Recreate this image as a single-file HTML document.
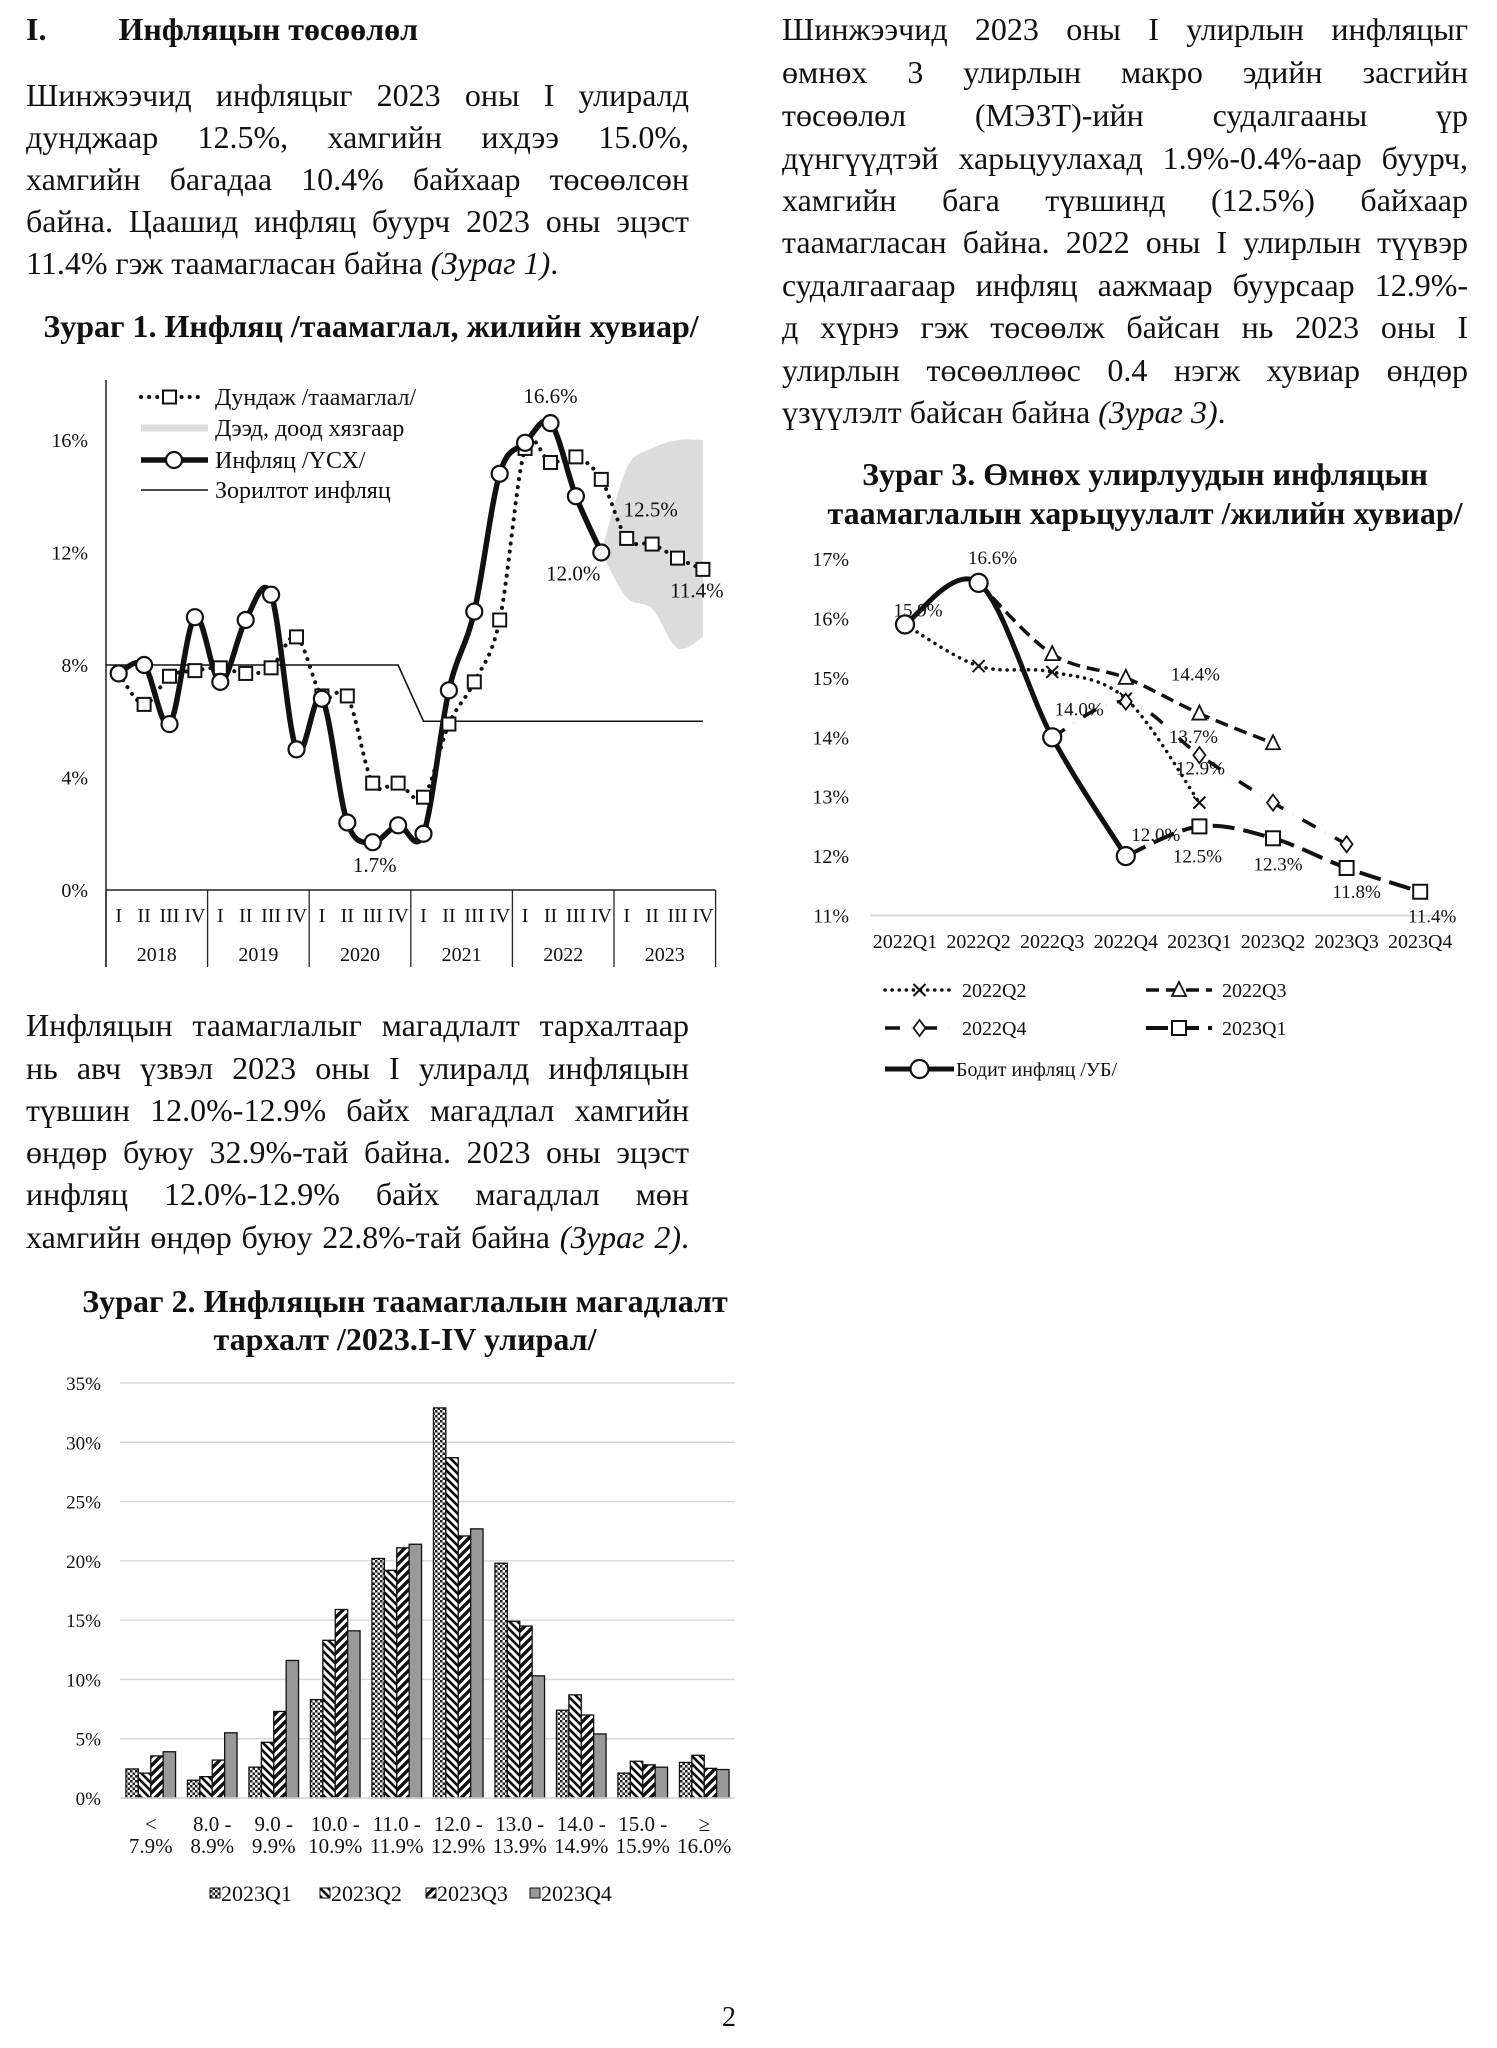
<!DOCTYPE html>
<html><head><meta charset="utf-8">
<style>
body{margin:0;background:#fff;}
#page{position:relative;width:1497px;height:2048px;overflow:hidden;background:#fff;font-family:"Liberation Serif","Noto Serif CJK SC",serif;color:#111;}
.ln{position:absolute;font-size:32px;line-height:42px;height:42px;white-space:nowrap;text-align:justify;text-align-last:justify;}
.ln.last{text-align-last:left;}
.ttl{position:absolute;font-weight:bold;font-size:32px;line-height:38px;white-space:nowrap;text-align:center;}
svg text{font-family:"Liberation Serif",serif;fill:#111;}
</style></head>
<body>
<div id="page">
<div class="ttl" style="left:26px;top:10px;text-align:left;">I.<span style="display:inline-block;width:72px"></span>Инфляцын төсөөлөл</div>

<div>
<div class="ln" style="left:26px;width:663px;top:74px">Шинжээчид инфляцыг 2023 оны I улиралд</div>
<div class="ln" style="left:26px;width:663px;top:116px">дунджаар 12.5%, хамгийн ихдээ 15.0%,</div>
<div class="ln" style="left:26px;width:663px;top:158px">хамгийн багадаа 10.4% байхаар төсөөлсөн</div>
<div class="ln" style="left:26px;width:663px;top:200px">байна. Цаашид инфляц буурч 2023 оны эцэст</div>
<div class="ln last" style="left:26px;width:663px;top:242px">11.4% гэж таамагласан байна <i>(Зураг 1)</i>.</div>
</div>

<div class="ttl" style="left:26px;width:690px;top:307px;">Зураг 1. Инфляц /таамаглал, жилийн хувиар/</div>

<div>
<div class="ln" style="left:782px;width:686px;top:8px">Шинжээчид 2023 оны I улирлын инфляцыг</div>
<div class="ln" style="left:782px;width:686px;top:51px">өмнөх 3 улирлын макро эдийн засгийн</div>
<div class="ln" style="left:782px;width:686px;top:94px">төсөөлөл (МЭЗТ)-ийн судалгааны үр</div>
<div class="ln" style="left:782px;width:686px;top:137px">дүнгүүдтэй харьцуулахад 1.9%-0.4%-аар буурч,</div>
<div class="ln" style="left:782px;width:686px;top:179px">хамгийн бага түвшинд (12.5%) байхаар</div>
<div class="ln" style="left:782px;width:686px;top:221px">таамагласан байна. 2022 оны I улирлын түүвэр</div>
<div class="ln" style="left:782px;width:686px;top:264px">судалгаагаар инфляц аажмаар буурсаар 12.9%-</div>
<div class="ln" style="left:782px;width:686px;top:306px">д хүрнэ гэж төсөөлж байсан нь 2023 оны I</div>
<div class="ln" style="left:782px;width:686px;top:349px">улирлын төсөөллөөс 0.4 нэгж хувиар өндөр</div>
<div class="ln last" style="left:782px;width:686px;top:391px">үзүүлэлт байсан байна <i>(Зураг 3)</i>.</div>
</div>

<div class="ttl" style="left:800px;width:690px;top:455px;">Зураг 3. Өмнөх улирлуудын инфляцын</div>
<div class="ttl" style="left:800px;width:690px;top:494px;">таамаглалын харьцуулалт /жилийн хувиар/</div>

<div>
<div class="ln" style="left:26px;width:663px;top:1004px">Инфляцын таамаглалыг магадлалт тархалтаар</div>
<div class="ln" style="left:26px;width:663px;top:1047px">нь авч үзвэл 2023 оны I улиралд инфляцын</div>
<div class="ln" style="left:26px;width:663px;top:1089px">түвшин 12.0%-12.9% байх магадлал хамгийн</div>
<div class="ln" style="left:26px;width:663px;top:1131px">өндөр буюу 32.9%-тай байна. 2023 оны эцэст</div>
<div class="ln" style="left:26px;width:663px;top:1173px">инфляц 12.0%-12.9% байх магадлал мөн</div>
<div class="ln" style="left:26px;width:663px;top:1216px">хамгийн өндөр буюу 22.8%-тай байна <i>(Зураг 2)</i>.</div>
</div>

<div class="ttl" style="left:60px;width:690px;top:1282px;">Зураг 2. Инфляцын таамаглалын магадлалт</div>
<div class="ttl" style="left:60px;width:690px;top:1320px;">тархалт /2023.I-IV улирал/</div>

<div style="position:absolute;left:722px;top:2002px;font-size:28px;">2</div>

<svg id="svg" width="1497" height="2048" style="position:absolute;left:0;top:0" xmlns="http://www.w3.org/2000/svg">
<defs>
<pattern id="pQ1" width="5" height="5" patternUnits="userSpaceOnUse"><rect width="5" height="5" fill="#fff"/><rect width="2.5" height="2.5" fill="#222"/><rect x="2.5" y="2.5" width="2.5" height="2.5" fill="#222"/></pattern>
<pattern id="pQ2" width="8" height="8" patternUnits="userSpaceOnUse"><rect width="8" height="8" fill="#fff"/><path d="M-2,-2 L10,10 M-2,6 L2,10 M6,-2 L10,2" stroke="#111" stroke-width="2.6"/></pattern>
<pattern id="pQ3" width="9" height="9" patternUnits="userSpaceOnUse"><rect width="9" height="9" fill="#fff"/><path d="M-2,11 L11,-2 M-2,2 L2,-2 M7,11 L11,7" stroke="#111" stroke-width="3.4"/></pattern>
</defs>
<g id="c1"></g>
<g id="c2"></g>
<g id="c3"></g>
</svg>
</div>
<script>
// ---------- Chart 1 data ----------
const c1Years = ["2018","2019","2020","2021","2022","2023"];
const c1Quarters = ["I","II","III","IV"];
const c1Ticks = [0,4,8,12,16];
const c1Actual = [7.7,8.0,5.9,9.7,7.4,9.6,10.5,5.0,6.8,2.4,1.7,2.3,2.0,7.1,9.9,14.8,15.9,16.6,14.0,12.0];
const c1Forecast = [7.7,6.6,7.6,7.8,7.9,7.7,7.9,9.0,6.9,6.9,3.8,3.8,3.3,5.9,7.4,9.6,15.7,15.2,15.4,14.6,12.5,12.3,11.8,11.4];
const c1Target = [8,8,8,8,8,8,8,8,8,8,8,8,6,6,6,6,6,6,6,6,6,6,6,6];
const c1BandUpper = [12.0,15.0,15.7,16.0,16.0];
const c1BandLower = [12.0,10.4,10.0,8.6,9.0];
const c1BandStart = 19;

// ---------- Chart 2 data ----------
const c2Cats = [["<","7.9%"],["8.0 -","8.9%"],["9.0 -","9.9%"],["10.0 -","10.9%"],["11.0 -","11.9%"],["12.0 -","12.9%"],["13.0 -","13.9%"],["14.0 -","14.9%"],["15.0 -","15.9%"],["≥","16.0%"]];
const c2Series = ["2023Q1","2023Q2","2023Q3","2023Q4"];
const c2Q1 = [2.45,1.5,2.6,8.3,20.2,32.9,19.8,7.4,2.1,3.0];
const c2Q2 = [2.1,1.8,4.7,13.3,19.2,28.7,14.9,8.7,3.1,3.6];
const c2Q3 = [3.55,3.2,7.3,15.9,21.1,22.1,14.5,7.0,2.8,2.5];
const c2Q4 = [3.9,5.5,11.6,14.1,21.4,22.7,10.3,5.4,2.6,2.4];
const c2Ticks = [0,5,10,15,20,25,30,35];

// ---------- Chart 3 data ----------
const c3Cats = ["2022Q1","2022Q2","2022Q3","2022Q4","2023Q1","2023Q2","2023Q3","2023Q4"];
const c3Ticks = [11,12,13,14,15,16,17];
const c3Actual = [15.9,16.6,14.0,12.0];
const c3F22Q2 = [15.9,15.2,15.1,14.65,12.9];
const c3F22Q3 = [16.6,15.4,15.0,14.4,13.9];
const c3F22Q4 = [14.0,14.6,13.7,12.9,12.2];
const c3F23Q1 = [12.0,12.5,12.3,11.8,11.4];

const NS="http://www.w3.org/2000/svg";
function mk(parent,tag,attrs,txt){const e=document.createElementNS(NS,tag);for(const k in attrs)e.setAttribute(k,attrs[k]);if(txt!==undefined)e.textContent=txt;parent.appendChild(e);return e;}
function smooth(p){let d=`M${p[0][0]},${p[0][1]}`;for(let i=0;i<p.length-1;i++){const p0=p[i-1]||p[i],p1=p[i],p2=p[i+1],p3=p[i+2]||p2;const c1x=p1[0]+(p2[0]-p0[0])/6,c1y=p1[1]+(p2[1]-p0[1])/6,c2x=p2[0]-(p3[0]-p1[0])/6,c2y=p2[1]-(p3[1]-p1[1])/6;d+=` C${c1x},${c1y} ${c2x},${c2y} ${p2[0]},${p2[1]}`;}return d;}

// fit text lines
document.querySelectorAll('.ln, .ttl').forEach(el=>{
  const w=el.getBoundingClientRect().width;
  const m=document.createElement('span');
  m.style.cssText='position:absolute;visibility:hidden;white-space:nowrap;left:0;top:0;';
  m.innerHTML=el.innerHTML;
  el.appendChild(m);
  const nw=m.getBoundingClientRect().width;
  const chars=el.textContent.length;
  el.removeChild(m);
  if(el.classList.contains('ln') && nw>w-4){el.style.letterSpacing=(-(nw-w+6)/chars)+'px';}
});

// ===== Chart 1 =====
(function(){
const g=document.getElementById('c1');
const L=106,R=715.6,Y0=890,Y16=440;
const n=24,step=(R-L)/n;
const x=i=>L+step*(i+0.5);
const y=v=>Y0-(Y0-Y16)*v/16;
const up=c1BandUpper.map((v,k)=>[x(c1BandStart+k),y(v)]);
const lo=c1BandLower.map((v,k)=>[x(c1BandStart+k),y(v)]).reverse();
let d=smooth(up)+" L"+smooth(lo).slice(1)+" Z";
let e=mk(g,'path',{d:d,fill:'#dcdcdc'});


mk(g,'line',{x1:L,y1:380,x2:L,y2:967,stroke:'#222','stroke-width':1.5});
mk(g,'line',{x1:L,y1:Y0,x2:R,y2:Y0,stroke:'#222','stroke-width':1.5});
c1Ticks.forEach(t=>{
  const tt=mk(g,'text',{x:L-18,y:y(t)+7,'text-anchor':'end','font-size':20},t+'%');
  
  
});
for(let k=0;k<=c1Years.length;k++){const xx=L+k*4*step;mk(g,'line',{x1:xx,y1:Y0,x2:xx,y2:967,stroke:'#222','stroke-width':1.3});}
for(let i=0;i<n;i++){
  const t=mk(g,'text',{x:x(i),y:922,'text-anchor':'middle','font-size':20},c1Quarters[i%4]);
  
  
}
c1Years.forEach((yr,k)=>{
  const t=mk(g,'text',{x:L+(k*4+2)*step,y:961,'text-anchor':'middle','font-size':20},yr);
  
  
});
let tp=`M${L},${y(c1Target[0])}`;c1Target.forEach((v,i)=>{tp+=` L${x(i)},${y(v)}`;});
e=mk(g,'path',{d:tp,fill:'none',stroke:'#111','stroke-width':1.6});


e=mk(g,'path',{d:smooth(c1Forecast.map((v,i)=>[x(i),y(v)])),fill:'none',stroke:'#111','stroke-width':4,'stroke-dasharray':'0.1 8','stroke-linecap':'round'});


e=mk(g,'path',{d:smooth(c1Actual.map((v,i)=>[x(i),y(v)])),fill:'none',stroke:'#111','stroke-width':5.5});


c1Forecast.forEach((v,i)=>{if(i===0)return;
  const s=mk(g,'rect',{x:x(i)-6.5,y:y(v)-6.5,width:13,height:13,fill:'#fff',stroke:'#111','stroke-width':2});
  
  
});
c1Actual.forEach((v,i)=>{
  const c=mk(g,'circle',{cx:x(i),cy:y(v),r:8,fill:'#fff',stroke:'#111','stroke-width':2.2});
  
  
});
[[17,c1Actual[17],0,-20,'16.6%'],[20,c1Forecast[20],24,-22,'12.5%'],[19,c1Actual[19],-28,28,'12.0%'],[23,c1Forecast[23],-6,28,'11.4%'],[10,c1Actual[10],2,30,'1.7%']].forEach(a=>{
  const t=mk(g,'text',{x:x(a[0])+a[2],y:y(a[1])+a[3],'text-anchor':'middle','font-size':21},a[4]);
  
  
});
const lg=mk(g,'g',{});


const ly=[397,428,460,490];
mk(lg,'line',{x1:141,y1:ly[0],x2:198,y2:ly[0],stroke:'#111','stroke-width':4,'stroke-dasharray':'0.1 8','stroke-linecap':'round'});
mk(lg,'rect',{x:163,y:ly[0]-6.5,width:13,height:13,fill:'#fff',stroke:'#111','stroke-width':2});
mk(lg,'line',{x1:141,y1:ly[1],x2:208,y2:ly[1],stroke:'#dcdcdc','stroke-width':7});
mk(lg,'line',{x1:141,y1:ly[2],x2:208,y2:ly[2],stroke:'#111','stroke-width':5.5});
mk(lg,'circle',{cx:174,cy:ly[2],r:8,fill:'#fff',stroke:'#111','stroke-width':2.2});
mk(lg,'line',{x1:141,y1:ly[3],x2:208,y2:ly[3],stroke:'#111','stroke-width':1.6});
["Дундаж /таамаглал/","Дээд, доод хязгаар","Инфляц /ҮСХ/","Зорилтот инфляц"].forEach((s,k)=>{
  const t=mk(lg,'text',{x:215,y:ly[k]+8,'font-size':24},s);
  
  
});
})();

// ===== Chart 2 =====
(function(){
const g=document.getElementById('c2');
const L=120,R=735,Y0=1798,Y35=1383;
const y=v=>Y0-(Y0-Y35)*v/35;
const cw=(R-L)/c2Cats.length, bw=12.4;
c2Ticks.forEach(t=>{
  mk(g,'line',{x1:L,y1:y(t),x2:R,y2:y(t),stroke:'#d9d9d9','stroke-width':1.5});
  const tt=mk(g,'text',{x:101,y:y(t)+7,'text-anchor':'end','font-size':19},t+'%');
  
  
});
const data=[c2Q1,c2Q2,c2Q3,c2Q4], fills=['url(#pQ1)','url(#pQ2)','url(#pQ3)','#999'];
c2Cats.forEach((c,i)=>{
  const cx=L+cw*(i+0.5);
  data.forEach((arr,s)=>{
    const bx=cx-2*bw+s*bw;
    const b=mk(g,'rect',{x:bx,y:y(arr[i]),width:bw,height:Y0-y(arr[i]),fill:fills[s],stroke:'#111','stroke-width':1.3});
    
    
  });
  const t1=mk(g,'text',{x:cx,y:1831,'text-anchor':'middle','font-size':21},c[0]);
  
  
  const t2=mk(g,'text',{x:cx,y:1853,'text-anchor':'middle','font-size':21},c[1]);
  
  
});
mk(g,'line',{x1:L,y1:Y0,x2:R,y2:Y0,stroke:'#d9d9d9','stroke-width':1.5});
const lx=[210,320,426,530];
c2Series.forEach((s,k)=>{
  const r=mk(g,'rect',{x:lx[k],y:1888,width:10,height:10,fill:fills[k],stroke:'#111','stroke-width':1});
  
  
  const t=mk(g,'text',{x:lx[k]+11,y:1901,'font-size':22},s);
  
  
});
})();

// ===== Chart 3 =====
(function(){
const g=document.getElementById('c3');
const X0=905,STEP=73.6,Y11=915.5,PER=59.4;
const x=i=>X0+STEP*i;
const y=v=>Y11-(v-11)*PER;
mk(g,'line',{x1:870,y1:y(11),x2:1448,y2:y(11),stroke:'#d9d9d9','stroke-width':2});
c3Ticks.forEach(t=>{
  const tt=mk(g,'text',{x:849,y:y(t)+7,'text-anchor':'end','font-size':20},t+'%');
  
  
});
c3Cats.forEach((c,i)=>{
  const t=mk(g,'text',{x:x(i),y:948,'text-anchor':'middle','font-size':20},c);
  
  
});
const series=[
 {d:c3F22Q2,start:0,dash:'0.1 7',w:3.5,m:'x',name:'forecast-2022q2-line'},
 {d:c3F22Q3,start:1,dash:'13 7',w:3.5,m:'tri',name:'forecast-2022q3-line'},
 {d:c3F22Q4,start:2,dash:'15 11 0.1 11',w:3.5,m:'dia',name:'forecast-2022q4-line'},
 {d:c3F23Q1,start:3,dash:'22 9',w:4,m:'sq',name:'forecast-2023q1-line'}];
function marker(par,type,cx,cy){
  let e;
  if(type==='x'){e=mk(par,'path',{d:`M${cx-6},${cy-6} L${cx+6},${cy+6} M${cx-6},${cy+6} L${cx+6},${cy-6}`,stroke:'#111','stroke-width':2});}
  else if(type==='tri'){e=mk(par,'path',{d:`M${cx},${cy-8} L${cx+7},${cy+6} L${cx-7},${cy+6} Z`,fill:'#fff',stroke:'#111','stroke-width':1.8});}
  else if(type==='dia'){e=mk(par,'path',{d:`M${cx},${cy-8} L${cx+6},${cy} L${cx},${cy+8} L${cx-6},${cy} Z`,fill:'#fff',stroke:'#111','stroke-width':1.8});}
  else if(type==='sq'){e=mk(par,'rect',{x:cx-7,y:cy-7,width:14,height:14,fill:'#fff',stroke:'#111','stroke-width':2});}
  else {e=mk(par,'circle',{cx:cx,cy:cy,r:9,fill:'#fff',stroke:'#111','stroke-width':2.2});}
  return e;
}
series.forEach(s=>{
  const p=mk(g,'path',{d:smooth(s.d.map((v,k)=>[x(s.start+k),y(v)])),fill:'none',stroke:'#111','stroke-width':s.w,'stroke-dasharray':s.dash,'stroke-linecap':s.m==='x'?'round':'butt'});
  
  
});
const ap=mk(g,'path',{d:smooth(c3Actual.map((v,k)=>[x(k),y(v)])),fill:'none',stroke:'#111','stroke-width':5});


series.forEach(s=>{
  s.d.forEach((v,k)=>{if(k===0)return;
    const m=marker(g,s.m,x(s.start+k),y(v));
    
    
  });
});
c3Actual.forEach((v,k)=>{
  const m=marker(g,'c',x(k),y(v));
  
  
});
const labels=[[0,c3Actual[0],13,-8,'15.9%'],[1,c3Actual[1],14,-19,'16.6%'],[2,c3Actual[2],27,-22,'14.0%'],[4,c3F22Q3[3],-4,-33,'14.4%'],[4,c3F22Q4[2],-6,-12,'13.7%'],[4,c3F22Q2[4],1,-28,'12.9%'],[3,c3Actual[3],30,-15,'12.0%'],[4,c3F23Q1[1],-2,36,'12.5%'],[5,c3F23Q1[2],5,32,'12.3%'],[6,c3F23Q1[3],10,30,'11.8%'],[7,c3F23Q1[4],12,31,'11.4%']];
labels.forEach(a=>{
  const t=mk(g,'text',{x:x(a[0])+a[2],y:y(a[1])+a[3],'text-anchor':'middle','font-size':19},a[4]);
  
  
});
const lg=mk(g,'g',{});


const items=[
 {x1:885,x2:954,tx:962,y:990,dash:'0.1 7',w:3.5,m:'x',t:'2022Q2',cap:'round'},
 {x1:1146,x2:1212,tx:1222,y:990,dash:'13 7',w:3.5,m:'tri',t:'2022Q3'},
 {x1:885,x2:954,tx:962,y:1028,dash:'15 11 0.1 11',w:3.5,m:'dia',t:'2022Q4'},
 {x1:1146,x2:1212,tx:1222,y:1028,dash:'22 9',w:4,m:'sq',t:'2023Q1'},
 {x1:885,x2:954,tx:956,y:1069,dash:'',w:5,m:'c',t:'Бодит инфляц /УБ/'}];
items.forEach(it=>{
  const a={x1:it.x1,y1:it.y,x2:it.x2,y2:it.y,stroke:'#111','stroke-width':it.w};
  if(it.dash)a['stroke-dasharray']=it.dash; if(it.cap)a['stroke-linecap']=it.cap;
  mk(lg,'line',a);
  marker(lg,it.m,(it.x1+it.x2)/2,it.y);
  const t=mk(lg,'text',{x:it.tx,y:it.y+7,'font-size':20},it.t);
  
  
});
})();
</script>
</body></html>
